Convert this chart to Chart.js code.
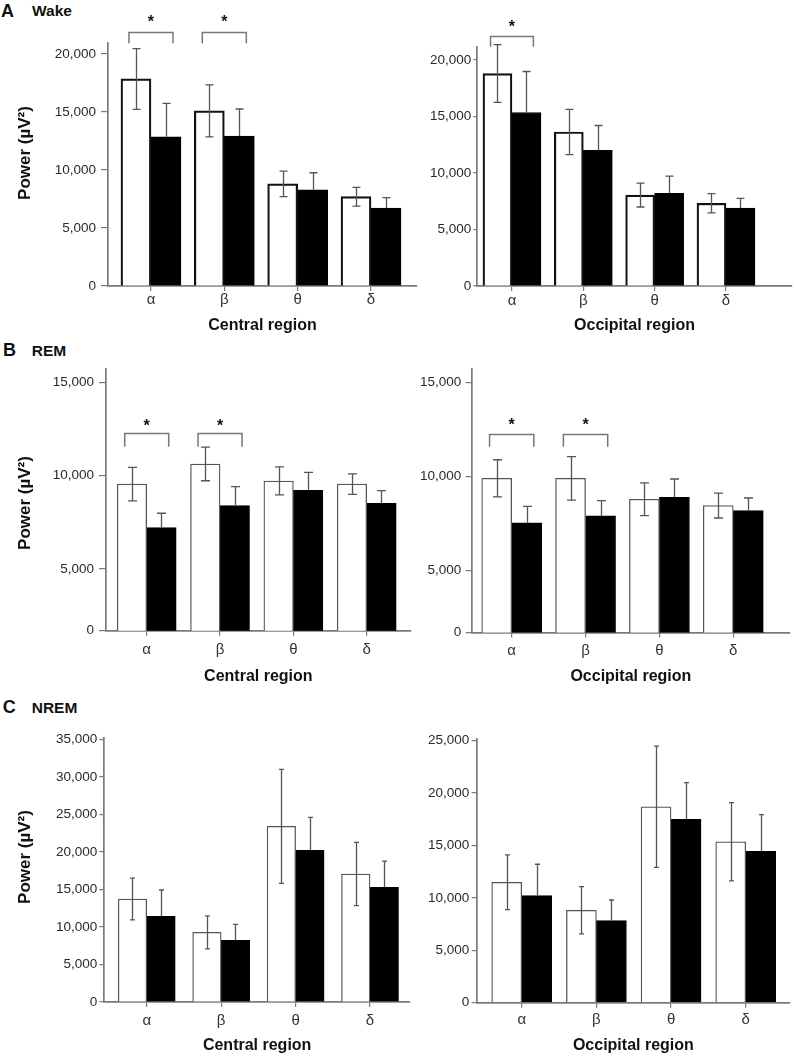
<!DOCTYPE html>
<html>
<head>
<meta charset="utf-8">
<script src="https://cdn.jsdelivr.net/npm/chart.js@4.4.0/dist/chart.umd.min.js"></script>
<style>
  html, body { margin: 0; padding: 0; background: #fff; }
  body { width: 794px; height: 1056px; position: relative; overflow: hidden;
         font-family: 'Liberation Sans', Arial, sans-serif; }
  canvas { position: absolute; }
  .lbl { position: absolute; font-weight: bold; color: #111; white-space: nowrap; }
</style>
</head>
<body>
<div class="lbl" style="left:1px;top:1.8px;font-size:18px;line-height:18px">A</div>
<div class="lbl" style="left:32px;top:2.9px;font-size:15.5px;line-height:15.5px">Wake</div>
<div class="lbl" style="left:3px;top:340.5px;font-size:18px;line-height:18px">B</div>
<div class="lbl" style="left:31.7px;top:342.6px;font-size:15.5px;line-height:15.5px">REM</div>
<div class="lbl" style="left:2.7px;top:698.3px;font-size:18px;line-height:18px">C</div>
<div class="lbl" style="left:31.7px;top:700.2px;font-size:15.5px;line-height:15.5px">NREM</div>

<script>
// ---------------- data ----------------
const bands = ['α', 'β', 'θ', 'δ'];

// A  Wake – central region
const wakeCentralOpen      = [17850, 15100, 8800, 7700];
const wakeCentralOpenErr   = [2620, 2240, 1100, 810];
const wakeCentralFilled    = [12870, 12930, 8300, 6720];
const wakeCentralFilledErr = [2880, 2330, 1465, 890];
const wakeCentralSig       = [0, 1];
// A  Wake – occipital region
const wakeOccipitalOpen      = [18800, 13630, 8050, 7320];
const wakeOccipitalOpenErr   = [2550, 2000, 1060, 850];
const wakeOccipitalFilled    = [15350, 12000, 8200, 6900];
const wakeOccipitalFilledErr = [3630, 2200, 1530, 860];
const wakeOccipitalSig       = [0];
const wakeYTicks = [0, 5000, 10000, 15000, 20000];

// B  REM – central region
const remCentralOpen      = [9550, 10630, 9720, 9550];
const remCentralOpenErr   = [900, 900, 750, 550];
const remCentralFilled    = [7220, 8400, 9220, 8520];
const remCentralFilledErr = [770, 1020, 960, 680];
const remCentralSig       = [0, 1];
// B  REM – occipital region
const remOccipitalOpen      = [9900, 9900, 8790, 8450];
const remOccipitalOpenErr   = [990, 1160, 870, 660];
const remOccipitalFilled    = [7540, 7900, 8890, 8180];
const remOccipitalFilledErr = [870, 815, 975, 675];
const remOccipitalSig       = [0, 1];
// REM axis in the original figure is truncated: its baseline is labelled "0"
const remYTicks = [0, 5000, 10000, 15000];

// C  NREM – central region
const nremCentralOpen      = [13720, 9280, 23400, 17050];
const nremCentralOpenErr   = [2780, 2200, 7600, 4220];
const nremCentralFilled    = [11420, 8220, 20210, 15280];
const nremCentralFilledErr = [3500, 2130, 4400, 3500];
const nremCentralSig       = [];
const nremCentralYTicks = [0, 5000, 10000, 15000, 20000, 25000, 30000, 35000];
// C  NREM – occipital region
const nremOccipitalOpen      = [11490, 8820, 18700, 15360];
const nremOccipitalOpenErr   = [2610, 2260, 5780, 3730];
const nremOccipitalFilled    = [10210, 7830, 17500, 14450];
const nremOccipitalFilledErr = [3000, 1970, 3500, 3490];
const nremOccipitalSig       = [];
const nremOccipitalYTicks = [0, 5000, 10000, 15000, 20000, 25000];

// ---------------- layout / style ----------------
const FONT = "'Liberation Sans', Arial, sans-serif";
const AXIS = '#7a7a7a';
const Y_TITLE = 'Power (µV²)';

const panels = [
  { canvas:{x:0,y:0,w:420,h:340}, plot:{l:108,r:417,t:42.4,b:286},
    xMin:-0.586, xMax:3.627, yMin:0, yMax:21000, yTicks:wakeYTicks, yBase:0,
    open:wakeCentralOpen, openErr:wakeCentralOpenErr, filled:wakeCentralFilled, filledErr:wakeCentralFilledErr,
    sig:wakeCentralSig, br:{line:21900, leg:20920, star:23080},
    xTitle:'Central region', yTitle:true, yTitleCenter:153, xTitleCenter:326,
    barW:30, openBW:2.2, openBC:'#111', cap:8, ytl:7, ypad:5, xpad:0 },
  { canvas:{x:400,y:0,w:394,h:340}, plot:{l:477.3,r:791.7,t:46.4,b:286},
    xMin:-0.486, xMax:3.921, yMin:0, yMax:21200, yTicks:wakeYTicks, yBase:0,
    open:wakeOccipitalOpen, openErr:wakeOccipitalOpenErr, filled:wakeOccipitalFilled, filledErr:wakeOccipitalFilledErr,
    sig:wakeOccipitalSig, br:{line:22120, leg:21180, star:23300},
    xTitle:'Occipital region', yTitle:false, xTitleCenter:326,
    barW:29, openBW:2.2, openBC:'#111', cap:8, ytl:4, ypad:2, xpad:1 },
  { canvas:{x:0,y:340,w:420,h:352}, plot:{l:106,r:410.7,t:369.3,b:630.7},
    xMin:-0.555, xMax:3.600, yMin:1700, yMax:15700, yTicks:remYTicks, yBase:1700,
    open:remCentralOpen, openErr:remCentralOpenErr, filled:remCentralFilled, filledErr:remCentralFilledErr,
    sig:remCentralSig, br:{line:12305, leg:11555, star:12894},
    xTitle:'Central region', yTitle:true, yTitleCenter:503, xTitleCenter:676.4,
    barW:29.5, openBW:1.3, openBC:'#555', cap:9, ytl:7, ypad:5, xpad:4.7 },
  { canvas:{x:400,y:340,w:394,h:352}, plot:{l:471.7,r:790,t:369.3,b:632.5},
    xMin:-0.5415, xMax:3.768, yMin:1700, yMax:15700, yTicks:remYTicks, yBase:1700,
    open:remOccipitalOpen, openErr:remOccipitalOpenErr, filled:remOccipitalFilled, filledErr:remOccipitalFilledErr,
    sig:remOccipitalSig, br:{line:12242, leg:11583, star:12966},
    xTitle:'Occipital region', yTitle:false, xTitleCenter:676.4,
    barW:30, openBW:1.3, openBC:'#555', cap:9, ytl:6, ypad:4.5, xpad:4.7 },
  { canvas:{x:0,y:690,w:420,h:366}, plot:{l:104.3,r:410,t:737.8,b:1002},
    xMin:-0.570, xMax:3.537, yMin:0, yMax:35200, yTicks:nremCentralYTicks, yBase:0,
    open:nremCentralOpen, openErr:nremCentralOpenErr, filled:nremCentralFilled, filledErr:nremCentralFilledErr,
    sig:nremCentralSig, br:null,
    xTitle:'Central region', yTitle:true, yTitleCenter:857, xTitleCenter:1046,
    barW:28.5, openBW:1.3, openBC:'#555', cap:5, ytl:5, ypad:2, xpad:5 },
  { canvas:{x:400,y:690,w:394,h:366}, plot:{l:476.7,r:790,t:738.6,b:1002.7},
    xMin:-0.603, xMax:3.593, yMin:0, yMax:25200, yTicks:nremOccipitalYTicks, yBase:0,
    open:nremOccipitalOpen, openErr:nremOccipitalOpenErr, filled:nremOccipitalFilled, filledErr:nremOccipitalFilledErr,
    sig:nremOccipitalSig, br:null,
    xTitle:'Occipital region', yTitle:false, xTitleCenter:1046,
    barW:30, openBW:1.3, openBC:'#555', cap:5, ytl:5, ypad:2.5, xpad:3 }
];

// ---------------- plugins ----------------
const errBarsPlugin = {
  id: 'errbars',
  afterDatasetsDraw(chart, args, o) {
    const ctx = chart.ctx, ys = chart.scales.y;
    ctx.save();
    ctx.strokeStyle = o.color; ctx.lineWidth = o.width; ctx.lineCap = 'butt';
    chart.data.datasets.forEach((ds, di) => {
      const meta = chart.getDatasetMeta(di);
      meta.data.forEach((bar, i) => {
        const v = ds.data[i].y, e = o.errs[di][i];
        const x = Math.round(bar.x) + 0.5;
        const top = ys.getPixelForValue(v + e);
        const bot = di === 0 ? ys.getPixelForValue(v - e) : bar.y;
        ctx.beginPath();
        ctx.moveTo(x, top); ctx.lineTo(x, bot);
        ctx.moveTo(x - o.cap / 2, top); ctx.lineTo(x + o.cap / 2, top);
        if (di === 0) { ctx.moveTo(x - o.cap / 2, bot); ctx.lineTo(x + o.cap / 2, bot); }
        ctx.stroke();
      });
    });
    ctx.restore();
  }
};

const bracketPlugin = {
  id: 'brackets',
  afterDraw(chart, args, o) {
    const ctx = chart.ctx;
    // y-axis title
    if (o.yTitle) {
      ctx.save();
      ctx.translate(25, o.yTitleY);
      ctx.rotate(-Math.PI / 2);
      ctx.fillStyle = '#111';
      ctx.font = 'bold 17px ' + FONT;
      ctx.textAlign = 'center'; ctx.textBaseline = 'middle';
      ctx.fillText(o.yTitle, 0, 0);
      ctx.restore();
    }
    if (!o.sig || !o.sig.length || !o.br) return;
    const xs = chart.scales.x, ys = chart.scales.y;
    ctx.save();
    o.sig.forEach(c => {
      const xl = xs.getPixelForValue(c - o.half), xr = xs.getPixelForValue(c + o.half);
      const yl = Math.round(ys.getPixelForValue(o.br.line)) + 0.5;
      const yg = ys.getPixelForValue(o.br.leg);
      ctx.strokeStyle = '#777'; ctx.lineWidth = 1.5;
      ctx.beginPath();
      ctx.moveTo(xl, yg); ctx.lineTo(xl, yl); ctx.lineTo(xr, yl); ctx.lineTo(xr, yg);
      ctx.stroke();
      const yStar = ys.getPixelForValue(o.br.star);
      ctx.fillStyle = '#111';
      ctx.font = 'bold 16px ' + FONT;
      ctx.textAlign = 'center'; ctx.textBaseline = 'alphabetic';
      ctx.fillText('*', (xl + xr) / 2, yStar + 0.57 * 16);
    });
    ctx.restore();
  }
};

// ---------------- build charts ----------------
panels.forEach(p => {
  const cv = document.createElement('canvas');
  cv.width = p.canvas.w; cv.height = p.canvas.h;
  cv.style.left = p.canvas.x + 'px'; cv.style.top = p.canvas.y + 'px';
  cv.style.width = p.canvas.w + 'px'; cv.style.height = p.canvas.h + 'px';
  document.body.appendChild(cv);

  const yw = p.plot.l - p.canvas.x;
  const xh = p.canvas.y + p.canvas.h - p.plot.b;
  const xTitleLH = 16 * 1.2;
  const xTitlePad = (p.canvas.y + p.canvas.h) - xTitleLH / 2 - p.xTitleCenter;

  new Chart(cv, {
    type: 'bar',
    data: {
      datasets: [
        { label: 'Open bars', data: p.open.map((v, i) => ({ x: i, y: v })),
          backgroundColor: '#ffffff', borderColor: p.openBC, borderWidth: p.openBW },
        { label: 'Filled bars', data: p.filled.map((v, i) => ({ x: i, y: v })),
          backgroundColor: '#000000', borderColor: '#000000', borderWidth: 1 }
      ]
    },
    options: {
      responsive: false, animation: false, devicePixelRatio: 1,
      layout: { padding: { left: 0, bottom: 0,
                           top: p.plot.t - p.canvas.y,
                           right: p.canvas.x + p.canvas.w - p.plot.r } },
      datasets: { bar: { barThickness: p.barW, grouped: true } },
      plugins: {
        legend: { display: false }, tooltip: { enabled: false },
        errbars: { errs: [p.openErr, p.filledErr], cap: p.cap, color: '#555', width: 1.3 },
        brackets: { sig: p.sig, br: p.br, half: 0.3,
                    yTitle: p.yTitle ? Y_TITLE : null,
                    yTitleY: p.yTitle ? p.yTitleCenter - p.canvas.y : 0 }
      },
      scales: {
        x: {
          type: 'linear', min: p.xMin, max: p.xMax, offset: false,
          afterBuildTicks: s => { s.ticks = bands.map((_, i) => ({ value: i })); },
          afterFit: s => { s.height = xh; },
          grid: { display: true, drawOnChartArea: false, drawTicks: true, tickLength: 5,
                  color: AXIS, lineWidth: 1.2, offset: false },
          border: { display: true, color: AXIS, width: 1.7 },
          ticks: { autoSkip: false, maxRotation: 0, minRotation: 0, padding: p.xpad,
                   color: '#333', font: { family: FONT, size: 15 },
                   callback: v => (bands[v] !== undefined ? bands[v] : '') },
          title: { display: true, text: p.xTitle, color: '#111',
                   font: { family: FONT, size: 16, weight: 'bold' },
                   padding: { top: 0, bottom: xTitlePad } }
        },
        y: {
          type: 'linear', min: p.yMin, max: p.yMax, beginAtZero: false,
          afterBuildTicks: s => { s.ticks = p.yTicks.map(v => ({ value: Math.max(v, p.yBase) })); },
          afterFit: s => { s.width = yw; },
          grid: { display: true, drawOnChartArea: false, drawTicks: true, tickLength: p.ytl,
                  color: AXIS, lineWidth: 1.2 },
          border: { display: true, color: AXIS, width: 1.7 },
          ticks: { autoSkip: false, padding: p.ypad, color: '#2a2a2a',
                   font: { family: FONT, size: 13.5 },
                   callback: v => (v <= p.yBase ? 0 : v).toLocaleString('en-US') },
          title: { display: false }
        }
      }
    },
    plugins: [errBarsPlugin, bracketPlugin]
  });
});
</script>
</body>
</html>
